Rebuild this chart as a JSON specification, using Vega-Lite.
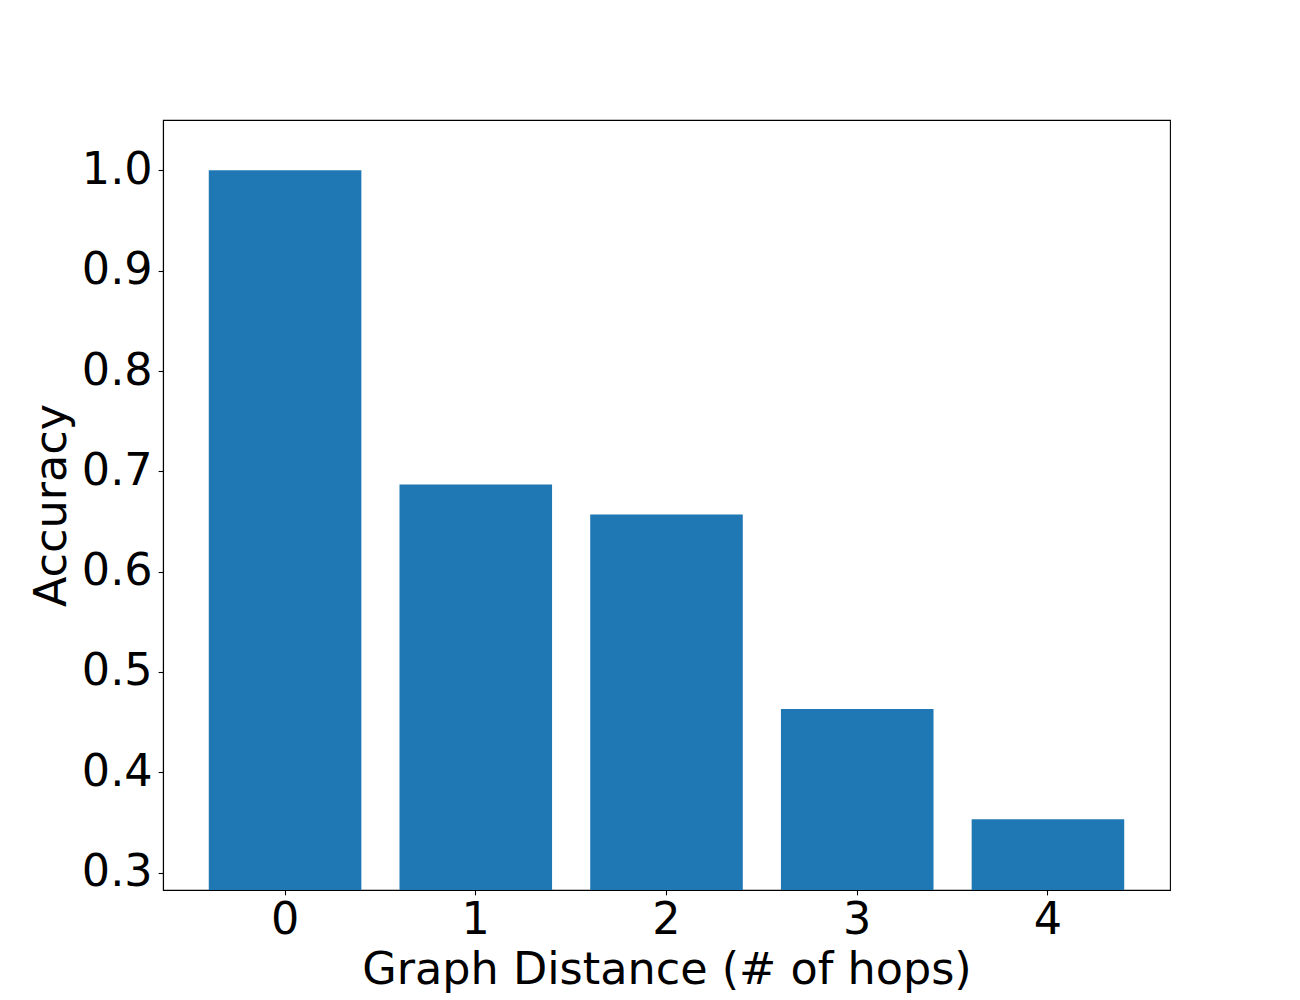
{
  "$schema": "https://vega.github.io/schema/vega-lite/v6.json",
  "width": 1007,
  "height": 770,
  "autosize": {"type": "none"},
  "padding": {"left": 163, "top": 120, "right": 130, "bottom": 110},
  "background": "white",
  "data": {
    "values": [
      {"hops": "0", "accuracy": 1.0},
      {"hops": "1", "accuracy": 0.687},
      {"hops": "2", "accuracy": 0.657},
      {"hops": "3", "accuracy": 0.463},
      {"hops": "4", "accuracy": 0.3533}
    ]
  },
  "mark": {"type": "bar", "color": "#1f77b4", "clip": true},
  "encoding": {
    "x": {
      "field": "hops",
      "type": "ordinal",
      "sort": null,
      "scale": {"paddingInner": 0.2, "paddingOuter": 0.24},
      "axis": {"title": "Graph Distance (# of hops)", "labelAngle": 0}
    },
    "y": {
      "field": "accuracy",
      "type": "quantitative",
      "scale": {"domain": [0.2827, 1.0502], "zero": false, "nice": false},
      "axis": {
        "title": "Accuracy",
        "values": [0.3, 0.4, 0.5, 0.6, 0.7, 0.8, 0.9, 1.0],
        "format": ".1f",
        "grid": false
      }
    }
  },
  "config": {
    "font": "DejaVu Sans",
    "view": {"stroke": "black", "strokeWidth": 1.1},
    "axis": {
      "labelFont": "DejaVu Sans",
      "titleFont": "DejaVu Sans",
      "labelFontSize": 44.5,
      "titleFontSize": 44.5,
      "titleFontWeight": "normal",
      "labelColor": "black",
      "titleColor": "black",
      "tickColor": "black",
      "tickSize": 4.9,
      "tickWidth": 1.1,
      "domainColor": "black",
      "domainWidth": 1.1,
      "labelPadding": 4,
      "grid": false,
      "labelOverlap": false,
      "labelFlush": false
    },
    "axisY": {"titlePadding": 7, "labelPadding": 6},
    "axisX": {"titlePadding": 6}
  }
}
